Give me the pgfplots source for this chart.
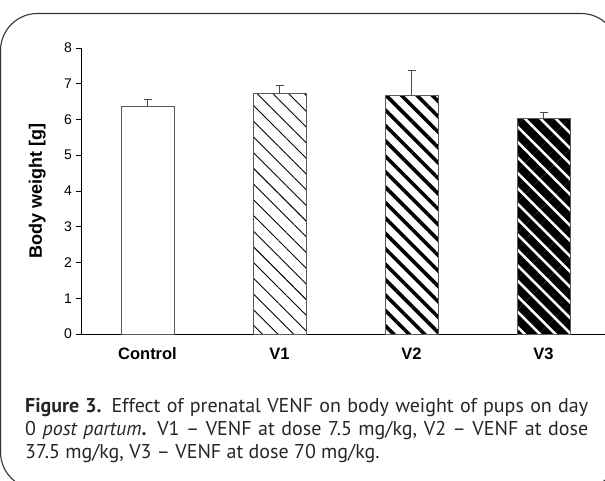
\documentclass[border=0pt]{standalone}
\usepackage{fontspec}
\setmainfont{Liberation Sans}
\newfontfamily\capfont{PT Sans}
\usepackage{pgfplots}
\pgfplotsset{compat=1.18}
\usetikzlibrary{patterns.meta}

\begin{document}
\begin{tikzpicture}[x=1pt,y=1pt]
\useasboundingbox (0,0) rectangle (605,480);
\draw[line width=1.1pt, color=black!80, rounded corners=37pt] (0.5,-9) rectangle (618,466.5);
\begin{axis}[
  at={(81.5pt,146pt)}, anchor=south west,
  width=528pt, height=286pt, scale only axis,
  xmin=-0.5, xmax=3.5, ymin=0, ymax=8,
  axis x line*=bottom, axis y line*=left,
  axis line style={black, line width=0.9pt},
  /pgf/number format/assume math mode=true,
  ytick={0,1,...,8},
  tick align=outside,
  major tick length=5pt,
  tick style={black, line width=0.9pt},
  yticklabel style={font=\fontsize{14}{14}\selectfont, xshift=-1pt},
  xtick={0,1,2,3},
  xticklabels={Control,V1,V2,V3},
  x tick style={draw=none},
  xticklabel style={font=\bfseries\fontsize{16.5}{16.5}\selectfont, anchor=base, yshift=-20pt},
  extra x ticks={-0.5,0.5,1.5,2.5},
  extra x tick labels={},
  extra x tick style={tick style={draw=black, line width=0.9pt}, major tick length=5pt},
  ylabel={Body weight [g]},
  ylabel style={font=\bfseries\fontsize{18}{18}\selectfont, at={(axis description cs:-0.084,0.5)}, anchor=center},
  ybar, bar width=53pt, bar shift=0pt,
  clip=false,
]
\addplot[draw=black!65, line width=0.9pt, fill=white,
  error bars/.cd, y dir=plus, y explicit,
  error bar style={black!70, line width=0.9pt},
  error mark options={black!70, line width=0.9pt, rotate=90, mark size=4pt}]
  coordinates {(0,6.37) +- (0,0.18)};
\addplot[draw=black!65, line width=0.9pt, pattern={Lines[angle=-45, distance=11.1pt, line width=0.9pt]}, pattern color=black,
  error bars/.cd, y dir=plus, y explicit,
  error bar style={black!70, line width=0.9pt},
  error mark options={black!70, line width=0.9pt, rotate=90, mark size=4pt}]
  coordinates {(1,6.72) +- (0,0.24)};
\addplot[draw=black!65, line width=0.9pt, pattern={Lines[angle=-45, distance=10.9pt, line width=3.6pt]}, pattern color=black,
  error bars/.cd, y dir=plus, y explicit,
  error bar style={black!70, line width=0.9pt},
  error mark options={black!70, line width=0.9pt, rotate=90, mark size=4pt}]
  coordinates {(2,6.67) +- (0,0.71)};
\addplot[draw=black!65, line width=0.9pt, pattern={Lines[angle=-45, distance=10.9pt, line width=8.1pt]}, pattern color=black,
  error bars/.cd, y dir=plus, y explicit,
  error bar style={black!70, line width=0.9pt},
  error mark options={black!70, line width=0.9pt, rotate=90, mark size=4pt}]
  coordinates {(3,6.04) +- (0,0.15)};
\end{axis}
\begin{scope}[every node/.style={anchor=base west, inner sep=0pt, font=\capfont\fontsize{20}{24}\selectfont, color=black!85}]
\node at (25,67.5) {\makebox[563pt][s]{\textbf{Figure 3.} Effect of prenatal VENF on body weight of pups on day}};
\node at (25,44.5) {\makebox[563pt][s]{0 \textit{post partum}\textbf{.} V1 – VENF at dose 7.5 mg/kg, V2 – VENF at dose}};
\node at (25,21.5) {37.5 mg/kg, V3 – VENF at dose 70 mg/kg.};
\end{scope}
\end{tikzpicture}
\end{document}
